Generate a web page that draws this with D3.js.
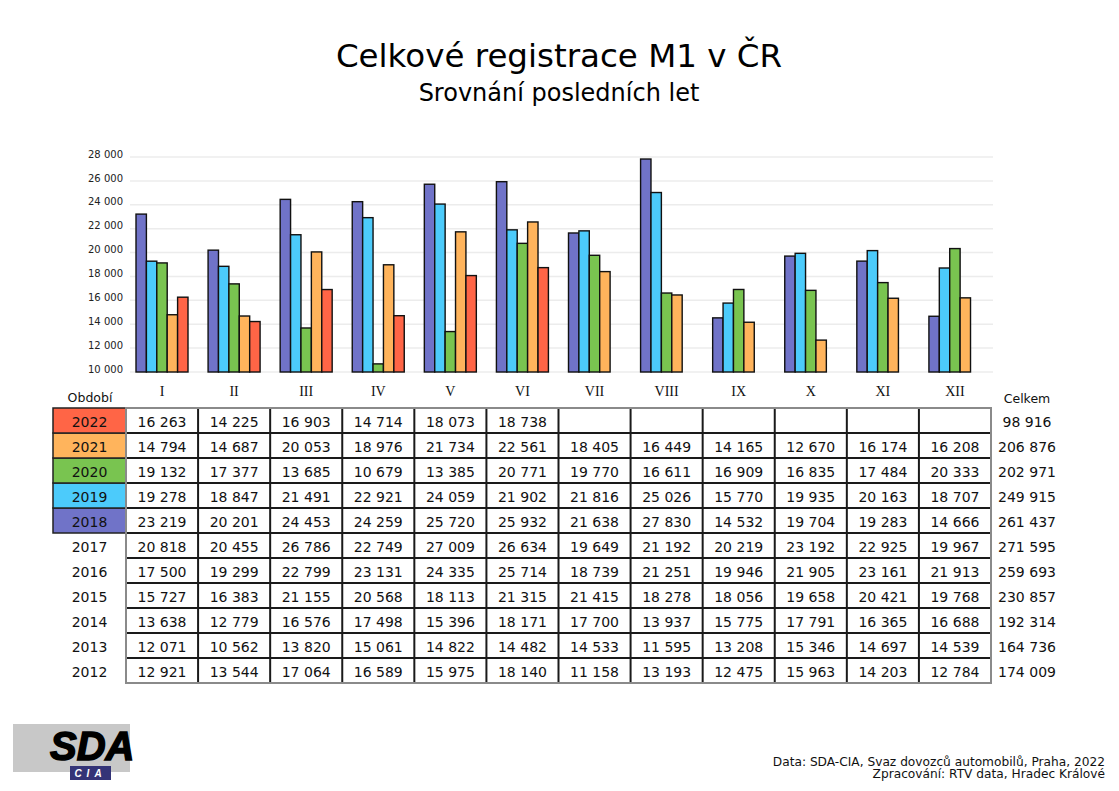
<!DOCTYPE html>
<html><head><meta charset="utf-8">
<script src="https://cdn.jsdelivr.net/npm/d3@7"></script>
<style>body{margin:0;background:#fff}svg{display:block}</style>
</head><body>
<svg id="c" width="1119" height="791"></svg>
<script>
const months = ["I","II","III","IV","V","VI","VII","VIII","IX","X","XI","XII"];
const chartYears = ["2018","2019","2020","2021","2022"];
const seriesColors = ["#7073c8","#4ccbfb","#79c450","#ffb45c","#ff6546"];
const yTicks = [10000,12000,14000,16000,18000,20000,22000,24000,26000,28000];
const v2022 = [16263,14225,16903,14714,18073,18738,null,null,null,null,null,null];
const v2021 = [14794,14687,20053,18976,21734,22561,18405,16449,14165,12670,16174,16208];
const v2020 = [19132,17377,13685,10679,13385,20771,19770,16611,16909,16835,17484,20333];
const v2019 = [19278,18847,21491,22921,24059,21902,21816,25026,15770,19935,20163,18707];
const v2018 = [23219,20201,24453,24259,25720,25932,21638,27830,14532,19704,19283,14666];
const v2017 = [20818,20455,26786,22749,27009,26634,19649,21192,20219,23192,22925,19967];
const v2016 = [17500,19299,22799,23131,24335,25714,18739,21251,19946,21905,23161,21913];
const v2015 = [15727,16383,21155,20568,18113,21315,21415,18278,18056,19658,20421,19768];
const v2014 = [13638,12779,16576,17498,15396,18171,17700,13937,15775,17791,16365,16688];
const v2013 = [12071,10562,13820,15061,14822,14482,14533,11595,13208,15346,14697,14539];
const v2012 = [12921,13544,17064,16589,15975,18140,11158,13193,12475,15963,14203,12784];
const tableYears = ["2022","2021","2020","2019","2018","2017","2016","2015","2014","2013","2012"];
const tableTotals = [98916,206876,202971,249915,261437,271595,259693,230857,192314,164736,174009];

const seriesByYear = {"2018":v2018,"2019":v2019,"2020":v2020,"2021":v2021,"2022":v2022};
const tableRows = [v2022,v2021,v2020,v2019,v2018,v2017,v2016,v2015,v2014,v2013,v2012];

const loc = d3.formatLocale({decimal:",",thousands:"\u00a0",grouping:[3],currency:["",""]});
const fmt = loc.format(",d");

const svg = d3.select("#c");
const SANS = "DejaVu Sans, Verdana, sans-serif";

// Titles
svg.append("text").attr("x",559).attr("y",67).attr("text-anchor","middle")
  .attr("font-family",SANS).attr("font-size",32.5).attr("fill","#000").text("Celkové registrace M1 v ČR");
svg.append("text").attr("x",559).attr("y",101).attr("text-anchor","middle")
  .attr("font-family",SANS).attr("font-size",24).attr("fill","#000").text("Srovnání posledních let");

// Scales
const x = d3.scaleBand().domain(months).range([126,991]).padding(0);
const xi = d3.scaleBand().domain(chartYears).range([10,62]).padding(0);
const y = d3.scaleLinear().domain([10000,28000]).range([372,157]);

// Gridlines
svg.append("g").selectAll("line").data(yTicks).join("line")
  .attr("x1",130).attr("x2",993).attr("y1",d=>y(d)).attr("y2",d=>y(d))
  .attr("stroke","#ececec").attr("stroke-width",1.5);

// Y axis labels
const yAxis = d3.axisLeft(y).tickValues(yTicks).tickFormat(fmt).tickSize(0).tickPadding(0);
const gy = svg.append("g").attr("transform","translate(123,-3)").call(yAxis);
gy.select(".domain").remove();
gy.selectAll("text").attr("font-family",SANS).attr("font-size",10).attr("fill","#222");

// Bars
const gBars = svg.append("g");
chartYears.forEach((yr,si)=>{
  const vals = seriesByYear[yr];
  gBars.append("g").selectAll("rect")
    .data(months.map((m,i)=>({m,v:vals[i]})).filter(d=>d.v!=null))
    .join("rect")
    .attr("x",d=>x(d.m)+xi(yr))
    .attr("y",d=>y(d.v))
    .attr("width",xi.bandwidth())
    .attr("height",d=>y(10000)-y(d.v))
    .attr("fill",seriesColors[si])
    .attr("stroke","#111").attr("stroke-width",1.4);
});

// Month labels (Roman numerals)
svg.append("g").selectAll("text").data(months).join("text")
  .attr("x",d=>x(d)+x.bandwidth()/2).attr("y",396).attr("text-anchor","middle")
  .attr("font-family","Liberation Serif, Times New Roman, serif").attr("font-size",14).attr("fill","#111")
  .text(d=>d);

svg.append("text").attr("x",90).attr("y",402).attr("text-anchor","middle")
  .attr("font-family",SANS).attr("font-size",12.5).attr("fill","#111").text("Období");
svg.append("text").attr("x",1027).attr("y",403).attr("text-anchor","middle")
  .attr("font-family",SANS).attr("font-size",12.5).attr("fill","#111").text("Celkem");

// Table
const rowTop = 408, rowH = 25;
const ry = d3.scaleBand().domain(tableYears).range([rowTop,rowTop+rowH*tableYears.length]).padding(0);
const tx0 = x.range()[0], tx1 = x.range()[1];
const gT = svg.append("g");
const textDy = rowH/2 + 6;

// colored year cells
chartYears.forEach((yr,si)=>{
  gT.append("rect").attr("x",53).attr("y",ry(yr)).attr("width",tx0-53).attr("height",rowH)
    .attr("fill",seriesColors[si]).attr("stroke","#222").attr("stroke-width",1.5);
});

// inner lines
const inner = gT.append("g").attr("stroke","#1a1a1a").attr("stroke-width",2);
months.slice(1).forEach(m=>{
  inner.append("line").attr("x1",x(m)).attr("x2",x(m)).attr("y1",rowTop).attr("y2",rowTop+rowH*tableYears.length);
});
tableYears.slice(1).forEach(yr=>{
  inner.append("line").attr("x1",tx0).attr("x2",tx1).attr("y1",ry(yr)).attr("y2",ry(yr));
});
// outer border
gT.append("rect").attr("x",tx0).attr("y",rowTop).attr("width",tx1-tx0).attr("height",rowH*tableYears.length)
  .attr("fill","none").attr("stroke","#8a8a8a").attr("stroke-width",2);

// year labels
gT.append("g").selectAll("text").data(tableYears).join("text")
  .attr("x",89.5).attr("y",d=>ry(d)+textDy).attr("text-anchor","middle")
  .attr("font-family",SANS).attr("font-size",14).attr("fill","#111").text(d=>d);

// values
tableRows.forEach((row,ri)=>{
  const yr = tableYears[ri];
  gT.append("g").selectAll("text").data(months.map((m,i)=>({m,v:row[i]})).filter(d=>d.v!=null)).join("text")
    .attr("x",d=>x(d.m)+x.bandwidth()/2).attr("y",ry(yr)+textDy).attr("text-anchor","middle")
    .attr("font-family",SANS).attr("font-size",14).attr("fill","#111").text(d=>fmt(d.v));
});
// totals
gT.append("g").selectAll("text").data(tableTotals).join("text")
  .attr("x",1027).attr("y",(d,i)=>ry(tableYears[i])+textDy).attr("text-anchor","middle")
  .attr("font-family",SANS).attr("font-size",14).attr("fill","#111").text(d=>fmt(d));

// Logo
const lg = svg.append("g");
lg.append("rect").attr("x",13).attr("y",724).attr("width",117).attr("height",48).attr("fill","#c8c8c8");
lg.append("text").attr("x",50).attr("y",760).attr("font-family","Liberation Sans, Arial, sans-serif")
  .attr("font-weight","bold").attr("font-style","italic").attr("font-size",40).attr("fill","#000")
  .attr("stroke","#000").attr("stroke-width",1.5).text("SDA");
lg.append("rect").attr("x",70).attr("y",766).attr("width",41).attr("height",14).attr("fill","#343477");
lg.append("text").attr("x",90.5).attr("y",777).attr("text-anchor","middle").attr("font-family","Liberation Sans, Arial, sans-serif")
  .attr("font-weight","bold").attr("font-style","italic").attr("font-size",10).attr("letter-spacing",5).attr("fill","#fff").text("CIA");

// Footer
svg.append("text").attr("x",1105).attr("y",766).attr("text-anchor","end")
  .attr("font-family",SANS).attr("font-size",12.2).attr("fill","#111").text("Data: SDA-CIA, Svaz dovozců automobilů, Praha, 2022");
svg.append("text").attr("x",1105).attr("y",778).attr("text-anchor","end")
  .attr("font-family",SANS).attr("font-size",12.2).attr("fill","#111").text("Zpracování: RTV data, Hradec Králové");
</script>
</body></html>
